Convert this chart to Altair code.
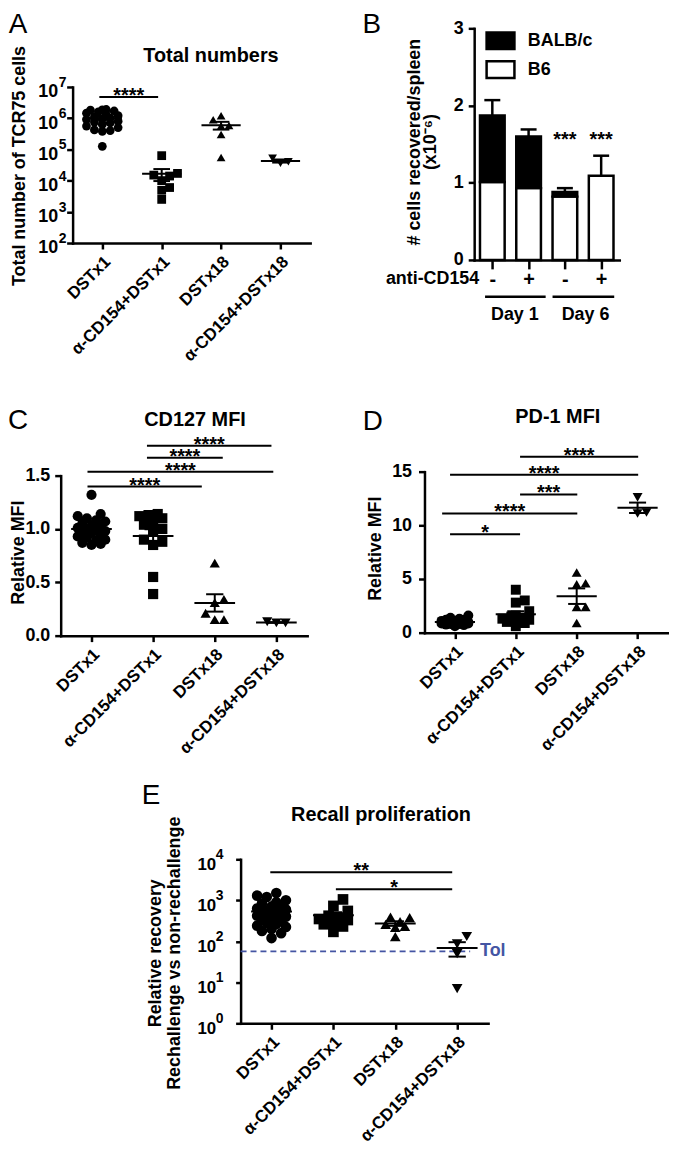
import json
import math
import altair as alt
import pandas as pd

FONT = "Liberation Sans"
W, H = 665, 1140

GROUPS = ["DSTx1", "α-CD154+DSTx1", "DSTx18", "α-CD154+DSTx18"]
SHAPES = ["circle", "square", "triangle-up", "triangle-down"]

# ---------------- data ----------------
# A: total numbers of TCR75 cells
A_DSTX1 = [1.9e6, 1.85e6, 1.8e6, 1.7e6, 1.6e6, 1.45e6, 1.3e6, 1.2e6, 1.1e6, 1.0e6, 9.5e5,
           9.0e5, 8.0e5, 7.5e5, 7.0e5, 6.3e5, 5.6e5, 5.0e5, 4.2e5, 4.0e5, 3.8e5, 1.25e5]
A_ANTI_DSTX1 = [6.3e4, 1.7e4, 1.5e4, 1.4e4, 1.0e4, 6.0e3, 4.9e3, 2.5e3]
A_DSTX18 = [1.2e6, 8.9e5, 5.8e5, 5.6e5, 3.0e5, 5.5e4]
A_ANTI_DSTX18 = [3.6e4, 5.2e4, 4.0e4]
A_TICK_EXP = [2, 3, 4, 5, 6, 7]

# B: cells recovered / spleen (x10^-6)
B_TREAT = ["-", "+", "-", "+"]
B_DAYS = ["Day 1", "Day 6"]
B_STRAINS = ["BALB/c", "B6"]
B_B6 = [1.01, 0.93, 0.82, 1.09]
B_BALBC = [0.86, 0.67, 0.06, 0.0]
B_ERR_TOP = [2.07, 1.69, 0.93, 1.35]
B_SIG = ["", "", "***", "***"]
B_YTICKS = [0, 1, 2, 3]

# C: CD127 MFI
C_DSTX1 = [1.32, 1.14, 1.12, 1.10, 1.08, 1.07, 1.05, 1.03, 1.02, 1.01, 1.00, 0.99, 0.98,
           0.97, 0.96, 0.95, 0.93, 0.92, 0.90, 0.89, 0.87, 0.86, 0.85]
C_ANTI_DSTX1 = [1.14, 1.13, 1.12, 1.10, 1.06, 1.04, 1.00, 0.98, 0.90, 0.88, 0.85, 0.55, 0.39]
C_DSTX18 = [0.68, 0.34, 0.31, 0.21, 0.15, 0.15]
C_ANTI_DSTX18 = [0.12, 0.13, 0.12]
C_YTICKS = [0, 0.5, 1.0, 1.5]

# D: PD-1 MFI
D_DSTX1 = [1.6, 1.4, 1.3, 1.2, 1.2, 1.1, 1.1, 1.0, 1.0, 1.0, 0.95, 0.9, 0.9, 0.85, 0.85,
           0.8, 0.8, 0.75, 0.7, 0.6]
D_ANTI_DSTX1 = [4.0, 3.0, 2.8, 2.0, 1.6, 1.5, 1.4, 1.3, 1.2, 1.1, 1.0, 0.9, 0.6]
D_DSTX18 = [5.6, 4.6, 4.5, 2.4, 2.4, 0.9]
D_ANTI_DSTX18 = [12.6, 11.2, 11.1]
D_YTICKS = [0, 5, 10, 15]

# E: recall proliferation
E_DSTX1 = [1500, 1300, 1200, 1000, 890, 830, 760, 710, 630, 600, 560, 520, 500, 480, 450,
           420, 400, 380, 355, 330, 316, 300, 280, 263, 240, 224, 200, 178, 158, 120]
E_ANTI_DSTX1 = [1050, 730, 550, 420, 380, 350, 330, 300, 260, 230, 170]
E_DSTX18 = [390, 380, 300, 260, 230, 220, 130]
E_ANTI_DSTX18 = [131, 87, 50, 7]
E_TICK_EXP = [0, 1, 2, 3, 4]
E_TOL = 57

# ---------------- annotations (significance bars, titles) ----------------
A_SIG = dict(x1=[0.45], x2=[1.44], y=[4.8e6], t=["****"])
C_SIG = dict(x1=[0.435, 0.435, 1.40, 1.40], x2=[2.29, 3.45, 2.63, 3.42],
             y=[1.397, 1.537, 1.668, 1.78], t=["****"] * 4)
D_SIG = dict(x1=[0.42, 0.29, 1.57, 0.42, 1.57], x2=[1.57, 2.51, 2.51, 3.51, 3.51],
             y=[9.17, 11.11, 12.87, 14.72, 16.39], t=["*", "****", "***", "****", "****"])
E_SIG = dict(x1=[0.48, 1.54], x2=[3.42, 3.42], y=[4840, 1870], t=["**", "*"])

# ---------------- panel geometry (plot-area pixel ranges) ----------------
A_XR, A_YR, A_YD = [65, 304], [233, 76], [1e2, 1e7]
B_XR, B_YR, B_YD = [469, 615], [250, 17], [0, 3]
C_XR, C_YR, C_YD = [53, 301], [628, 467], [0, 1.5]
D_XR, D_YR, D_YD = [419, 664], [625, 463], [0, 15]
E_XR, E_YR, E_YD = [234, 483], [1018, 853], [1, 1e4]

AX = dict(domainColor="black", domainWidth=2.5, domainCap="square", tickColor="black",
          tickWidth=2.5, labelFont=FONT, labelFontWeight="bold", labelColor="black",
          grid=False, titleFont=FONT, titleFontWeight="bold", titleColor="black",
          titleFontSize=18, labelOverlap=False, labelFlush=False)


def lbl_expr(labels):
    return json.dumps(labels, ensure_ascii=False) + "[floor(datum.value)]"


def cat_x_axis(ybot):
    return alt.Axis(orient="bottom", offset=ybot - H, values=[0.5, 1.5, 2.5, 3.5],
                    labelExpr=lbl_expr(GROUPS), labelAngle=315, labelAlign="right",
                    labelBaseline="middle", labelFontSize=17, labelPadding=10, labelOffset=5,
                    tickSize=6, title=None, **AX)


def swarm(groups_vals, ypix, step, diam, maxoff=16.0):
    rows = []
    cands = [0.0]
    j = 1
    while j * diam * 0.45 <= maxoff:
        cands += [j * diam * 0.45, -j * diam * 0.45]
        j += 1
    for g, vals in enumerate(groups_vals):
        placed = []
        for v in sorted(vals):
            y = ypix(v)
            best, best_d = 0.0, -1.0
            for c in cands:
                d = min([math.hypot(c - px, y - py) for px, py in placed] or [1e9])
                if d >= 0.85 * diam:
                    best = c
                    break
                if d > best_d + 0.5:
                    best, best_d = c, d
            placed.append((best, y))
            rows.append({"g": g, "v": v, "x": g + 0.5 + best / step, "shape": SHAPES[g]})
    return pd.DataFrame(rows)


def text_layer(df, X, Y, **mk):
    return alt.Chart(df).mark_text(font=FONT, color="black", **mk).encode(
        x=X("x:Q"), y=Y("y:Q"), text="t:N")


def make_xy(xsc, ysc, xaxis, yaxis):
    def X(f):
        return alt.X(f, scale=xsc, axis=xaxis)

    def Y(f):
        return alt.Y(f, scale=ysc, axis=yaxis)
    return X, Y


def scatter_panel(vals, xr, yr, yd, ylog, size, yaxis, sig, letter, title, extra=()):
    step = (xr[1] - xr[0]) / 4.0
    if ylog:
        span = math.log10(yd[1]) - math.log10(yd[0])
        ypix = lambda v: math.log10(v) / span * (yr[0] - yr[1])
    else:
        ypix = lambda v: v / (yd[1] - yd[0]) * (yr[0] - yr[1])
    df = swarm(vals, ypix, step, math.sqrt(size))
    xsc = alt.Scale(domain=[0, 4], range=xr, nice=False, zero=False, padding=0)
    ysc = alt.Scale(type="log" if ylog else "linear", domain=yd, range=yr, nice=False,
                    zero=False, padding=0)
    X, Y = make_xy(xsc, ysc, cat_x_axis(yr[0]), yaxis)

    sig_df = pd.DataFrame(sig)
    sig_rules = alt.Chart(sig_df).mark_rule(color="black", strokeWidth=2).encode(
        x=X("x1:Q"), x2="x2:Q", y=Y("y:Q"))
    sig_txt = alt.Chart(sig_df).transform_calculate(xm="(datum.x1 + datum.x2) / 2").mark_text(
        font=FONT, fontWeight="bold", fontSize=20, dy=5, baseline="alphabetic", color="black"
    ).encode(x=X("xm:Q"), y=Y("y:Q"), text="t:N")

    stats = alt.Chart(df).transform_aggregate(
        m="mean(v)", se="stderr(v)", groupby=["g"]
    ).transform_calculate(
        c="datum.g + 0.5", lo="datum.m - datum.se", hi="datum.m + datum.se",
        ml="datum.g + 0.5 - 0.33", mr="datum.g + 0.5 + 0.33",
        cl="datum.g + 0.5 - 0.14", cr="datum.g + 0.5 + 0.14")
    rule = dict(color="black", strokeWidth=2)
    mean_r = stats.mark_rule(**rule).encode(x=X("ml:Q"), x2="mr:Q", y=Y("m:Q"))
    whisk = stats.mark_rule(**rule).encode(x=X("c:Q"), y=Y("lo:Q"), y2="hi:Q")
    cap_lo = stats.mark_rule(**rule).encode(x=X("cl:Q"), x2="cr:Q", y=Y("lo:Q"))
    cap_hi = stats.mark_rule(**rule).encode(x=X("cl:Q"), x2="cr:Q", y=Y("hi:Q"))

    pts = alt.Chart(df).mark_point(filled=True, color="black", opacity=1, size=size).encode(
        x=X("x:Q"), y=Y("v:Q"), shape=alt.Shape("shape:N", scale=None))

    layers = [sig_rules, sig_txt]
    for e in extra:
        layers.append(e(X, Y))
    layers += [mean_r, whisk, cap_lo, cap_hi, pts]
    layers.append(text_layer(pd.DataFrame(letter), X, Y, fontSize=28, baseline="alphabetic"))
    layers.append(text_layer(pd.DataFrame(title), X, Y, fontSize=20, fontWeight="bold",
                             baseline="middle"))
    return layers, X, Y


def exp_layer(exps, X, Y, dx, fs):
    df = pd.DataFrame({"x": [0] * len(exps), "y": [10.0 ** e for e in exps],
                       "t": [str(e) for e in exps]})
    return text_layer(df, X, Y, fontSize=fs, fontWeight="bold", align="left",
                      baseline="middle", dx=dx, dy=-4)


# ---------------- Panel A ----------------
a_yaxis = alt.Axis(orient="left", offset=-A_XR[0], values=[10.0 ** e for e in A_TICK_EXP],
                   labelExpr="'10'", labelFontSize=18, labelOffset=5, tickSize=6, labelPadding=9,
                   title="Total number of TCR75 cells", titleX=-53, titleY=155, titleAngle=270,
                   titleAlign="center", titleBaseline="middle", **AX)
A_layers, AXf, AYf = scatter_panel(
    [A_DSTX1, A_ANTI_DSTX1, A_DSTX18, A_ANTI_DSTX18], A_XR, A_YR, A_YD, True, 78, a_yaxis, A_SIG,
    letter={"x": [-0.92], "y": [5.2e8], "t": ["A"]},
    title={"x": [2.33], "y": [9.8e7], "t": ["Total numbers"]})
A_layers.append(exp_layer(A_TICK_EXP, AXf, AYf, -14, 14))
panelA = alt.layer(*A_layers)

# ---------------- Panel B ----------------
bx = alt.Scale(domain=[0, 4], range=B_XR, nice=False, zero=False, padding=0)
by = alt.Scale(domain=B_YD, range=B_YR, nice=False, zero=False, padding=0)
b_xaxis = alt.Axis(orient="bottom", offset=B_YR[0] - H, values=[0.5, 1.5, 2.5, 3.5],
                   labelExpr=lbl_expr(B_TREAT), labelAngle=0, labelAlign="center",
                   labelBaseline="top", labelFontSize=20, tickSize=9, labelPadding=1,
                   title=None, **AX)
b_yaxis = alt.Axis(orient="left", offset=-B_XR[0], values=B_YTICKS, labelFontSize=18,
                   tickSize=6, labelPadding=5,
                   title=["# cells recovered/spleen", "(x10⁻⁶)"], titleX=-60, titleY=131,
                   titleAngle=270, titleAlign="center", titleBaseline="middle",
                   titleLineHeight=16, **AX)
BX, BY = make_xy(bx, by, b_xaxis, b_yaxis)

rows = []
for i in range(4):
    rows.append(dict(c=i + 0.5, strain="B6", y0=0.0, y1=B_B6[i]))
    if B_BALBC[i] > 0:
        rows.append(dict(c=i + 0.5, strain="BALB/c", y0=B_B6[i], y1=B_B6[i] + B_BALBC[i]))
bars_df = pd.DataFrame(rows)
bars = alt.Chart(bars_df).transform_calculate(
    l="datum.c - 0.34", r="datum.c + 0.34"
).mark_bar(stroke="black", strokeWidth=2.5).encode(
    x=BX("l:Q"), x2="r:Q", y=BY("y0:Q"), y2="y1:Q",
    fill=alt.Fill("strain:N", scale=alt.Scale(domain=B_STRAINS, range=["black", "white"]),
                  legend=alt.Legend(orient="none", legendX=480, legendY=14, title=None,
                                    symbolType="M-1,-0.6H1V0.6H-1Z", symbolSize=784,
                                    symbolStrokeColor="black", symbolStrokeWidth=2.5,
                                    labelFont=FONT, labelFontSize=18, labelFontWeight="bold",
                                    labelColor="black", rowPadding=0, labelOffset=12,
                                    padding=0, offset=0)))
err_df = pd.DataFrame({"c": [i + 0.5 for i in range(4)],
                       "lo": [b + k for b, k in zip(B_B6, B_BALBC)], "hi": B_ERR_TOP})
err_rule = alt.Chart(err_df).mark_rule(color="black", strokeWidth=2.5).encode(
    x=BX("c:Q"), y=BY("lo:Q"), y2="hi:Q")
err_cap = alt.Chart(err_df).transform_calculate(
    cl="datum.c - 0.22", cr="datum.c + 0.22"
).mark_rule(color="black", strokeWidth=2.5).encode(x=BX("cl:Q"), x2="cr:Q", y=BY("hi:Q"))
b_sig = text_layer(pd.DataFrame({"x": [i + 0.5 for i in range(4)], "y": [1.47] * 4, "t": B_SIG}),
                   BX, BY, fontSize=20, fontWeight="bold", baseline="alphabetic")
b_anti = text_layer(pd.DataFrame({"x": [0.14], "y": [-0.245], "t": ["anti-CD154"]}), BX, BY,
                    fontSize=18, fontWeight="bold", align="right", baseline="middle")
day_df = pd.DataFrame({"x1": [0.30, 2.16], "x2": [1.97, 3.86], "y": [-0.476, -0.476]})
b_daylines = alt.Chart(day_df).mark_rule(color="black", strokeWidth=2.5).encode(
    x=BX("x1:Q"), x2="x2:Q", y=BY("y:Q"))
b_days = text_layer(pd.DataFrame({"x": [1.12, 3.07], "y": [-0.708, -0.708], "t": B_DAYS}),
                    BX, BY, fontSize=18, fontWeight="bold", baseline="middle")
b_letter = text_layer(pd.DataFrame({"x": [-2.82], "y": [2.935], "t": ["B"]}), BX, BY,
                      fontSize=28, baseline="alphabetic")
panelB = alt.layer(bars, err_rule, err_cap, b_sig, b_anti, b_daylines, b_days, b_letter)

# ---------------- Panel C ----------------
c_yaxis = alt.Axis(orient="left", offset=-C_XR[0], values=C_YTICKS, format=".1f",
                   labelFontSize=18, tickSize=6, labelPadding=5, title="Relative MFI",
                   titleX=-42, titleY=544, titleAngle=270, titleAlign="center",
                   titleBaseline="middle", **AX)
C_layers, _, _ = scatter_panel(
    [C_DSTX1, C_ANTI_DSTX1, C_DSTX18, C_ANTI_DSTX18], C_XR, C_YR, C_YD, False, 105, c_yaxis,
    C_SIG, letter={"x": [-0.69], "y": [1.938], "t": ["C"]},
    title={"x": [2.18], "y": [2.02], "t": ["CD127 MFI"]})
panelC = alt.layer(*C_layers)

# ---------------- Panel D ----------------
d_yaxis = alt.Axis(orient="left", offset=-D_XR[0], values=D_YTICKS, labelFontSize=18,
                   tickSize=6, labelPadding=7, title="Relative MFI", titleX=-49, titleY=540,
                   titleAngle=270, titleAlign="center", titleBaseline="middle", **AX)
D_layers, _, _ = scatter_panel(
    [D_DSTX1, D_ANTI_DSTX1, D_DSTX18, D_ANTI_DSTX18], D_XR, D_YR, D_YD, False, 100, d_yaxis,
    D_SIG, letter={"x": [-0.849], "y": [18.9], "t": ["D"]},
    title={"x": [2.19], "y": [20.1], "t": ["PD-1 MFI"]})
panelD = alt.layer(*D_layers)

# ---------------- Panel E ----------------
TOL_COLOR = "#4455a3"


def tol_layers(X, Y):
    df = pd.DataFrame({"x1": [0.0], "x2": [3.71], "y": [E_TOL], "xt": [3.87], "t": ["Tol"]})
    line = alt.Chart(df).mark_rule(color=TOL_COLOR, strokeWidth=1.8, strokeDash=[6, 4]).encode(
        x=X("x1:Q"), x2="x2:Q", y=Y("y:Q"))
    txt = alt.Chart(df).mark_text(font=FONT, fontSize=18, fontWeight="bold", color=TOL_COLOR,
                                  align="left", baseline="middle").encode(
        x=X("xt:Q"), y=Y("y:Q"), text="t:N")
    return alt.layer(line, txt)


e_yaxis = alt.Axis(orient="left", offset=-E_XR[0], values=[10.0 ** e for e in E_TICK_EXP],
                   labelExpr="'10'", labelFontSize=17, labelOffset=5, tickSize=5, labelPadding=20,
                   title=["Relative recovery", "Rechallenge vs non-rechallenge"], titleX=-86,
                   titleY=947, titleAngle=270, titleAlign="center", titleBaseline="middle",
                   titleLineHeight=20, **AX)
E_layers, EXf, EYf = scatter_panel(
    [E_DSTX1, E_ANTI_DSTX1, E_DSTX18, E_ANTI_DSTX18], E_XR, E_YR, E_YD, True, 115, e_yaxis,
    E_SIG, letter={"x": [-1.446], "y": [2.28e5], "t": ["E"]},
    title={"x": [2.27], "y": [1.23e5], "t": ["Recall proliferation"]}, extra=(tol_layers,))
E_layers.append(exp_layer(E_TICK_EXP, EXf, EYf, -25, 14))
panelE = alt.layer(*E_layers)

chart = alt.layer(panelA, panelB, panelC, panelD, panelE).resolve_scale(
    x="independent", y="independent"
).properties(
    width=W, height=H, padding=0, autosize=alt.AutoSizeParams(type="none")
).configure_view(stroke=None)

chart.save("out.html", embed_options={"renderer": "svg", "actions": False})
